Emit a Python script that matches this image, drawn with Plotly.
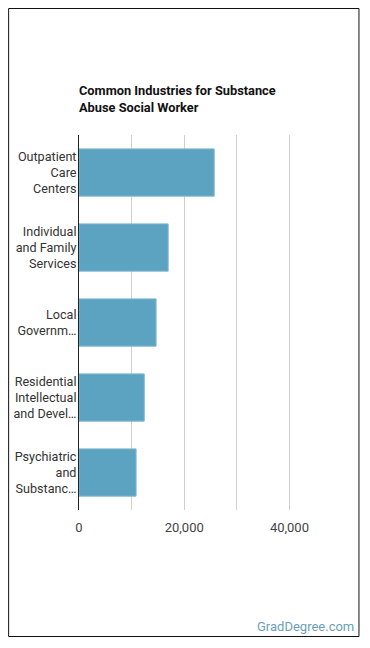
import plotly.graph_objects as go

categories = [
    "Outpatient<br>Care<br>Centers",
    "Individual<br>and Family<br>Services",
    "Local<br>Governm…",
    "Residential<br>Intellectual<br>and Devel…",
    "Psychiatric<br>and<br>Substanc…",
]
values = [25700, 16950, 14650, 12400, 10850]
title_text = "Common Industries for Substance<br>Abuse Social Worker"
x_tickvals = [0, 20000, 40000]

W, H = 370, 648
L, R, T, B = 79, 28.5, 135, 138
pw = W - L - R
ph = H - T - B

fig = go.Figure()
fig.add_trace(go.Bar(
    x=values, y=categories, orientation="h",
    marker=dict(color="#5ca3c1", line=dict(color="#7fb7cf", width=1)),
    hoverinfo="skip",
))

fig.update_layout(
    width=W, height=H,
    margin=dict(l=L, r=R, t=T, b=B, autoexpand=False),
    paper_bgcolor="white", plot_bgcolor="white",
    showlegend=False,
    bargap=0.37,
    font=dict(family="Roboto", size=13, color="#333"),
    xaxis=dict(
        range=[0, 49800],
        tickvals=x_tickvals,
        tickformat=",",
        showgrid=True, gridcolor="#d0d0d0", gridwidth=1,
        minor=dict(dtick=10000, tick0=0, showgrid=True, gridcolor="#d0d0d0", gridwidth=1),
        zeroline=False, showline=False,
        ticks="", ticklabelstandoff=8,
        tickfont=dict(size=13, color="#444"),
        fixedrange=True, automargin=False,
    ),
    yaxis=dict(
        autorange="reversed",
        showline=True, linecolor="#222", linewidth=1,
        ticks="", ticklabelstandoff=-1,
        tickfont=dict(size=12.6, color="#333"),
        showgrid=False, fixedrange=True, automargin=False,
    ),
)

def px_x(x):
    return (x - L) / pw

def px_y(y):
    return (H - B - y) / ph

fig.add_shape(type="rect", xref="paper", yref="paper",
              x0=px_x(8.5), x1=px_x(359.5), y0=px_y(636.5), y1=px_y(8.5),
              line=dict(color="#111", width=1), fillcolor="rgba(0,0,0,0)", layer="above")

fig.add_annotation(text="<b>" + title_text + "</b>", xref="paper", yref="paper",
                   x=px_x(77), y=px_y(99), xanchor="left", yanchor="middle", align="left",
                   showarrow=False, font=dict(family="Roboto", size=12.8, color="#111"))

fig.add_annotation(text="GradDegree.com", xref="paper", yref="paper",
                   x=px_x(357), y=px_y(626), xanchor="right", yanchor="middle",
                   showarrow=False, font=dict(family="Roboto", size=13, color="#6b9fb8"))

fig.write_html("out.html")
